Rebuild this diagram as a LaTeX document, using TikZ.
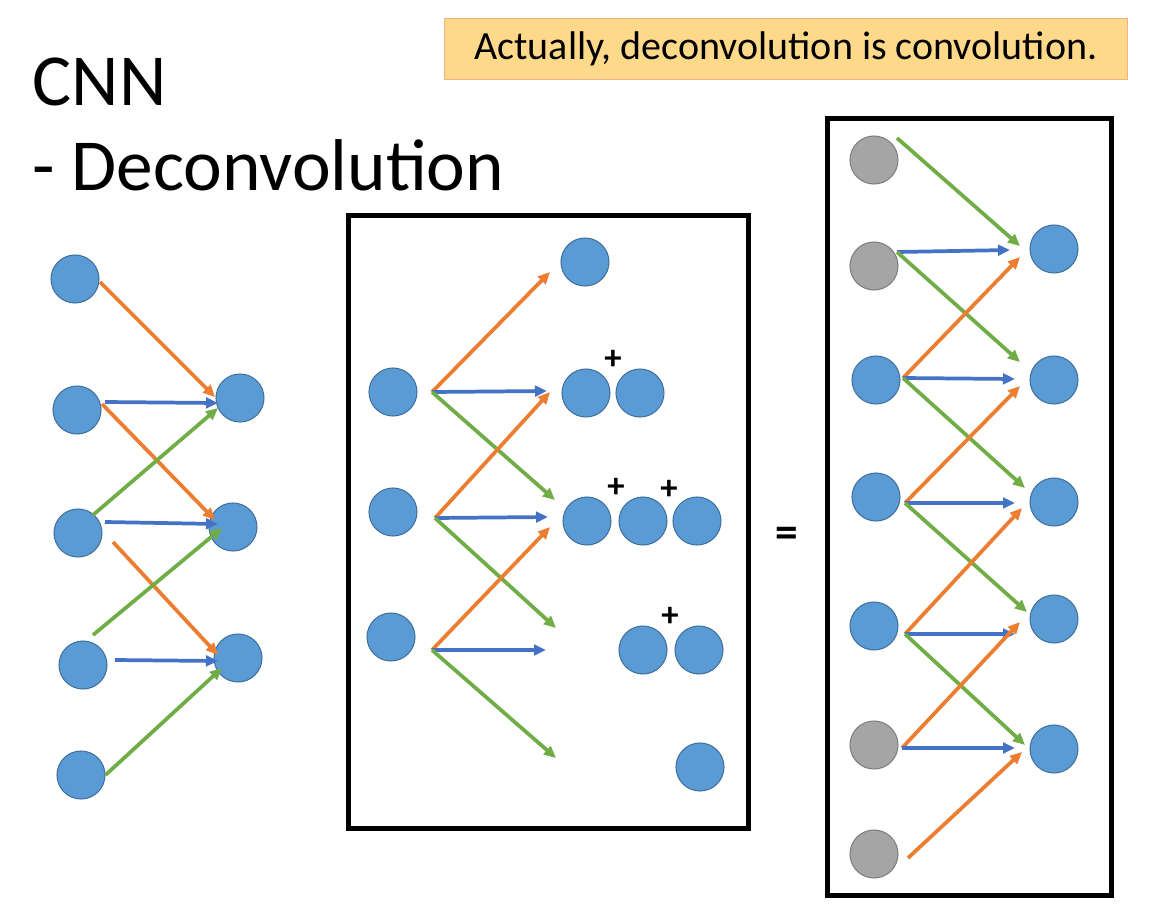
\documentclass[tikz,border=0pt]{standalone}
\usepackage{fontspec}
\setmainfont{Carlito}
\usetikzlibrary{arrows.meta}
\definecolor{bfill}{HTML}{5B9BD5}\definecolor{bline}{HTML}{41719C}
\definecolor{gfill}{HTML}{A5A5A5}\definecolor{gline}{HTML}{7F7F7F}
\definecolor{cor}{HTML}{ED7D31}\definecolor{cgr}{HTML}{70AD47}\definecolor{cbl}{HTML}{4472C4}
\definecolor{ybox}{HTML}{FFD98A}\definecolor{ybord}{HTML}{F4B183}
\begin{document}
\begin{tikzpicture}[x=0.75pt,y=-0.75pt,
 bn/.style={circle,draw=bline,fill=bfill,line width=0.8pt,minimum size=36pt,inner sep=0pt},
 gn/.style={circle,draw=gline,fill=gfill,line width=0.8pt,minimum size=36pt,inner sep=0pt},
 ar/.style={line width=2.8pt,-{Triangle[length=9pt,width=8pt]}},
 o/.style={ar,cor},g/.style={ar,cgr},b/.style={ar,cbl},
 box/.style={draw=black,line width=3.5pt},
 pl/.style={font=\fontsize{26}{26}\selectfont\bfseries}]
\useasboundingbox (0,0) rectangle (1157,907);
\node[anchor=west,font=\fontsize{55}{55}\selectfont] (t1) at (28,82) {CNN};
\node[anchor=west,font=\fontsize{55}{55}\selectfont] (t2) at (28,165) {- Deconvolution};
\node[draw=ybord,fill=ybox,minimum width=512pt,minimum height=46pt,font=\fontsize{30}{30}\selectfont] (note) at (786,49) {Actually, deconvolution is convolution.};
% left
\node[bn] (a1) at (75,279) {};\node[bn] (a2) at (77,410) {};\node[bn] (a3) at (78,533) {};
\node[bn] (a4) at (83,665) {};\node[bn] (a5) at (81,775) {};
\node[bn] (r1) at (240,398) {};\node[bn] (r2) at (233,527) {};\node[bn] (r3) at (238,658) {};
\coordinate (c1) at (100,282);\coordinate (c2) at (93,515);\coordinate (c3) at (113,542);
\coordinate (c4) at (93,635);\coordinate (c5) at (115,660);
\coordinate (c6) at (105,402);\coordinate (c7) at (102,404);\coordinate (c8) at (105,522);
\draw[o] (c1) -- (215,397);
\draw[b] (c6) -- (218,403);
\draw[o] (c7) -- (215,520);
\draw[g] (c2) -- (218,408);
\draw[b] (c8) -- (218,524);
\draw[o] (c3) -- (218,655);
\draw[g] (c4) -- (222,528);
\draw[b] (c5) -- (218,661);
\draw[g] (a5.east) -- (222,668);
% middle
\node[box,minimum width=300pt,minimum height=460pt] (m) at (548.5,522) {};
\node[bn] (m1) at (393,392) {};\node[bn] (m2) at (393,512) {};\node[bn] (m3) at (391,637) {};
\node[bn] (p1) at (585,262) {};
\node[bn] (p2) at (586,393) {};\node[bn] (p3) at (640,393) {};
\node[bn] (p4) at (587,521) {};\node[bn] (p5) at (643,521) {};\node[bn] (p6) at (697,521) {};
\node[bn] (p7) at (643,650) {};\node[bn] (p8) at (699,650) {};
\node[bn] (p9) at (700,767) {};
\node[pl] (s1) at (613,360) {+};\node[pl] (s2) at (616,488) {+};
\node[pl] (s3) at (669,490) {+};\node[pl] (s4) at (670,617) {+};
\coordinate (q1) at (432,392);\coordinate (q2) at (435,518);\coordinate (q3) at (432,650);
\draw[o] (q1) -- (550,272);\draw[b] (q1) -- (547,391);\draw[g] (q1) -- (555,500);
\draw[o] (q2) -- (550,392);\draw[b] (q2) -- (548,517);\draw[g] (q2) -- (556,628);
\draw[o] (q3) -- (550,527);\draw[b] (q3) -- (546,650);\draw[g] (q3) -- (556,758);
\node[font=\fontsize{34}{34}\selectfont\bfseries] (eq) at (787,537) {=};
% right
\node[box,minimum width=213pt,minimum height=583pt] (rb) at (969.5,507) {};
\node[gn] (l1) at (874,160) {};\node[gn] (l2) at (874,266) {};\node[bn] (l3) at (876,380) {};
\node[bn] (l4) at (876,497) {};\node[bn] (l5) at (874,626) {};\node[gn] (l6) at (874,745) {};
\node[gn] (l7) at (874,854) {};
\node[bn] (o1) at (1054,249) {};\node[bn] (o2) at (1054,380) {};\node[bn] (o3) at (1054,502) {};
\node[bn] (o4) at (1054,619) {};\node[bn] (o5) at (1054,749) {};
\coordinate (k1) at (897,138);\coordinate (k2) at (897,252);\coordinate (k3) at (903,378);
\coordinate (k4) at (905,503);\coordinate (k5) at (905,634);\coordinate (k6) at (902,748);
\coordinate (k7) at (908,858);
\draw[g] (k1) -- (1020,246);
\draw[b] (k2) -- (1010,250);\draw[g] (k2) -- (1020,362);
\draw[o] (k3) -- (1020,257);\draw[b] (k3) -- (1015,379);\draw[g] (k3) -- (1025,488);
\draw[o] (k4) -- (1020,386);\draw[b] (k4) -- (1015,503);\draw[g] (k4) -- (1027,612);
\draw[o] (k5) -- (1022,508);\draw[b] (k5) -- (1015,634);\draw[g] (k5) -- (1025,745);
\draw[o] (k6) -- (1020,622);\draw[b] (k6) -- (1015,748);
\draw[o] (k7) -- (1022,752);
\end{tikzpicture}
\end{document}
